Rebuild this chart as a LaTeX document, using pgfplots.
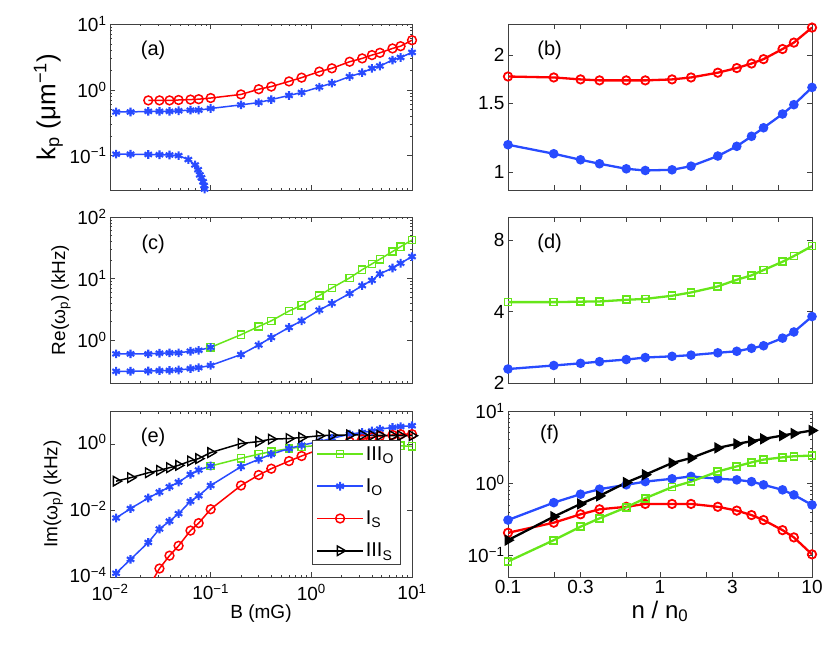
\documentclass[border=0pt]{standalone}
\usepackage{fontspec}
\setmainfont{Liberation Sans}
\usepackage{pgfplots}
\pgfplotsset{compat=1.18}
\definecolor{cgreen}{RGB}{102,230,25}
\definecolor{cblue}{RGB}{40,75,255}
\definecolor{cred}{RGB}{255,0,0}
\newcommand{\tk}[1]{10\textsuperscript{#1}}
\tikzset{plab/.style={font=\fontsize{20}{22}\selectfont}}
\pgfplotsset{
  myPanel/.style={scale only axis, width=302pt, height=166pt, anchor=south west,
    tick align=inside, axis line style={line width=0.6pt, black!75},
    tick style={black!75, line width=0.5pt},
    major tick length=5pt, minor tick length=2.5pt,
    ticklabel style={font=\fontsize{19}{21}\selectfont},
    /pgf/number format/assume math mode=true,
    clip=true},
  myRpanel/.style={myPanel, width=304pt, xmin=0.1, xmax=10,
    xtick={0.1,0.2,0.3,0.6,1,2,3,6,10},
    xticklabels={},
    minor xtick={}},
  myLpanel/.style={myPanel, xmin=0.01, xmax=10,
    xtick={0.01,0.1,1,10}, xticklabels={}},
  sI/.style={color=cred, line width=1.5pt, mark=o, mark size=4.4pt, mark options={line width=1.5pt}},
  sIO/.style={color=cblue, line width=1.5pt, mark=asterisk, mark size=4.3pt, mark options={line width=2.1pt}},
  sIIIO/.style={color=cgreen, line width=1.5pt, mark=square, mark size=3.6pt, mark options={line width=1.4pt}},
  sIIIS/.style={color=black, line width=1.5pt, mark=triangle, mark size=5.5pt, mark options={rotate=-90, line width=1.4pt}},
}
\begin{document}
\begin{tikzpicture}
\path[use as bounding box] (0,0) rectangle (830pt,654pt);
% ---------------- (a)
\begin{loglogaxis}[myLpanel, at={(110pt,464pt)}, ymin=0.03, ymax=10,
  ytick={0.1,1,10}, yticklabels={\tk{−1},\tk{0},\tk{1}},
  ylabel={k\textsubscript{p} (μm\textsuperscript{−1})},
  ylabel style={font=\fontsize{26}{28}\selectfont}]
\addplot[sIO] coordinates {(0.0115,0.46)(0.016,0.46)(0.024,0.47)(0.031,0.47)(0.039,0.47)(0.048,0.48)(0.063,0.49)(0.076,0.49)(0.1,0.52)(0.2,0.59)(0.3,0.64)(0.4,0.71)(0.6,0.82)(0.8,0.91)(1.2,1.10)(1.6,1.26)(2.4,1.59)(3.2,1.82)(4,2.12)(4.8,2.3)(6.4,2.83)(7.7,3.1)(10,3.7)};
\addplot[sIO] coordinates {(0.0115,0.105)(0.016,0.105)(0.024,0.104)(0.031,0.103)(0.039,0.102)(0.048,0.100)(0.060,0.087)(0.070,0.072)(0.075,0.061)(0.078,0.051)(0.081,0.046)(0.084,0.040)(0.086,0.035)(0.087,0.031)};
\addplot[sI] coordinates {(0.024,0.69)(0.031,0.69)(0.039,0.69)(0.048,0.70)(0.063,0.71)(0.076,0.72)(0.1,0.75)(0.2,0.85)(0.3,1.02)(0.4,1.12)(0.6,1.34)(0.8,1.53)(1.2,1.89)(1.6,2.12)(2.4,2.67)(3.2,3.0)(4,3.37)(4.8,3.65)(6.4,4.25)(7.7,4.6)(10,5.67)};
\node[plab] at (rel axis cs:0.143,0.843) {(a)};
\end{loglogaxis}
% ---------------- (b)
\begin{loglogaxis}[myRpanel, at={(508pt,464pt)}, ymin=0.9, ymax=2.4,
  ytick={1,1.5,2}, yticklabels={1,1.5,2}, minor ytick={}]
\addplot[sIO, mark=*, mark size=3.7pt, line width=2.3pt] coordinates {(0.1,1.176)(0.2,1.115)(0.3,1.076)(0.4,1.051)(0.6,1.02)(0.8,1.01)(1.2,1.014)(1.6,1.036)(2.4,1.10)(3.2,1.165)(4,1.236)(4.8,1.30)(6.4,1.41)(7.6,1.49)(10,1.65)};
\addplot[sI, line width=2.3pt, mark size=4.2pt, mark options={line width=1.8pt}] coordinates {(0.1,1.76)(0.2,1.75)(0.3,1.73)(0.4,1.72)(0.6,1.72)(0.8,1.72)(1.2,1.73)(1.6,1.75)(2.4,1.80)(3.2,1.85)(4,1.90)(4.8,1.95)(6.4,2.07)(7.6,2.15)(10,2.35)};
\node[plab] at (rel axis cs:0.137,0.843) {(b)};
\end{loglogaxis}
% ---------------- (c)
\begin{loglogaxis}[myLpanel, at={(110pt,271pt)}, ymin=0.2, ymax=100,
  ytick={1,10,100}, yticklabels={\tk{0},\tk{1},\tk{2}},
  ylabel={Re(ω\textsubscript{p}) (kHz)},
  ylabel style={font=\fontsize{19}{21}\selectfont}]
\addplot[sIO] coordinates {(0.0115,0.31)(0.016,0.31)(0.024,0.313)(0.031,0.317)(0.039,0.32)(0.048,0.325)(0.063,0.342)(0.076,0.355)(0.1,0.386)(0.2,0.58)(0.3,0.83)(0.4,1.10)(0.6,1.6)(0.8,2.05)(1.2,3.07)(1.6,3.94)(2.4,5.7)(3.2,7.67)(4,9.34)(4.8,11.9)(6.4,14.8)(7.7,17.7)(10,22.7)};
\addplot[sIIIO] coordinates {(0.1,0.76)(0.2,1.22)(0.3,1.66)(0.4,2.05)(0.6,2.96)(0.8,3.66)(1.2,5.3)(1.6,7.03)(2.4,10.2)(3.2,13.9)(4,17.3)(4.8,20.6)(6.4,27.4)(7.7,32.9)(10,42.2)};
\addplot[sIO] coordinates {(0.0115,0.595)(0.016,0.595)(0.024,0.595)(0.031,0.61)(0.039,0.618)(0.048,0.618)(0.063,0.657)(0.076,0.68)(0.1,0.76)};
\node[plab] at (rel axis cs:0.143,0.837) {(c)};
\end{loglogaxis}
% ---------------- (d)
\begin{loglogaxis}[myRpanel, at={(508pt,271pt)}, ymin=2, ymax=10,
  ytick={2,4,8}, yticklabels={2,4,8}, minor ytick={}]
\addplot[sIO, mark=*, mark size=3.7pt, line width=2.3pt] coordinates {(0.1,2.29)(0.2,2.37)(0.3,2.42)(0.4,2.46)(0.6,2.51)(0.8,2.56)(1.2,2.59)(1.6,2.62)(2.4,2.68)(3.2,2.72)(4,2.80)(4.8,2.87)(6.4,3.09)(7.6,3.28)(10,3.81)};
\addplot[sIIIO, line width=2.3pt, mark size=3.5pt, mark options={line width=1.7pt}] coordinates {(0.1,4.38)(0.2,4.38)(0.3,4.40)(0.4,4.41)(0.6,4.48)(0.8,4.52)(1.2,4.66)(1.6,4.81)(2.4,5.10)(3.2,5.44)(4,5.68)(4.8,5.98)(6.4,6.48)(7.6,6.85)(10,7.54)};
\node[plab] at (rel axis cs:0.137,0.843) {(d)};
\end{loglogaxis}
% ---------------- (e)
\begin{loglogaxis}[myLpanel, at={(110pt,77pt)}, ymin=1e-4, ymax=10,
  xticklabels={\tk{−2},\tk{−1},\tk{0},\tk{1}},
  xticklabel style={yshift=-4pt},
  yticklabel style={yshift=2pt},
  ytick={1e-4,1e-2,1}, yticklabels={\tk{−4},\tk{−2},\tk{0}},
  ylabel={Im(ω\textsubscript{p}) (kHz)},
  ylabel style={font=\fontsize{19}{21}\selectfont},
  xlabel={B (mG)},
  xlabel style={font=\fontsize{19}{21}\selectfont, yshift=2pt},
  legend cell align=left,
  legend style={at={(rel axis cs:0.669,0.825)}, anchor=north west,
    draw=black!75, line width=0.6pt, fill=white,
    font=\fontsize{20}{22}\selectfont, row sep=13pt, inner sep=4pt},
  legend image code/.code={\draw[mark repeat=2,mark phase=2,#1] plot coordinates {(0pt,0pt) (23pt,0pt) (46pt,0pt)};}]
\addplot[sIIIO] coordinates {(0.1,0.22)(0.2,0.377)(0.3,0.5)(0.4,0.6)(0.6,0.74)(0.8,0.83)(1.2,0.93)(1.6,0.97)(2.4,1.0)(3.2,1.0)(4,0.98)(4.8,0.96)(6.4,0.92)(7.7,0.9)(10,0.86)};
\addlegendentry{III\textsubscript{O}}
\addplot[sIO] coordinates {(0.0115,1.3e-4)(0.016,3.4e-4)(0.024,1.1e-3)(0.031,2.8e-3)(0.039,4.8e-3)(0.048,8.1e-3)(0.063,0.019)(0.076,0.028)(0.1,0.057)(0.2,0.21)(0.3,0.35)(0.4,0.5)(0.6,0.74)(0.8,0.93)(1.2,1.2)(1.6,1.5)(2.4,2.0)(3.2,2.26)(4,2.5)(4.8,2.85)(6.4,3.2)(7.7,3.4)(10,3.6)};
\addlegendentry{I\textsubscript{O}}
\addplot[sI] coordinates {(0.024,4.7e-5)(0.031,1.8e-4)(0.039,4.4e-4)(0.048,8.7e-4)(0.063,2.5e-3)(0.076,4.2e-3)(0.1,0.011)(0.2,0.057)(0.3,0.118)(0.4,0.183)(0.6,0.31)(0.8,0.44)(1.2,0.7)(1.6,0.9)(2.4,1.2)(3.2,1.4)(4,1.6)(4.8,1.75)(6.4,1.9)(7.7,2.0)(10,2.0)};
\addlegendentry{I\textsubscript{S}}
\addplot[sIIIS] coordinates {(0.0115,0.077)(0.016,0.098)(0.024,0.138)(0.031,0.163)(0.039,0.196)(0.048,0.231)(0.063,0.313)(0.076,0.368)(0.1,0.559)(0.2,1.05)(0.3,1.2)(0.4,1.42)(0.6,1.48)(0.8,1.59)(1.2,1.79)(1.6,1.87)(2.4,1.9)(3.2,1.9)(4,1.85)(4.8,1.85)(6.4,1.8)(7.7,1.8)(10,1.8)};
\addlegendentry{III\textsubscript{S}}
\addplot[sIO, forget plot] coordinates {(0.0115,0.006)(0.016,0.0115)(0.024,0.024)(0.031,0.036)(0.039,0.052)(0.048,0.072)(0.063,0.123)(0.076,0.167)(0.1,0.22)};
\node[plab] at (rel axis cs:0.143,0.843) {(e)};
\end{loglogaxis}
% ---------------- (f)
\begin{loglogaxis}[myRpanel, at={(508pt,77pt)}, ymin=0.05, ymax=10,
  xticklabels={0.1,,0.3,,1,,3,,10},
  ytick={0.1,1,10}, yticklabels={\tk{−1},\tk{0},\tk{1}},
  xlabel={n / n\textsubscript{0}},
  xlabel style={font=\fontsize{24}{26}\selectfont}]
\addplot[sIO, mark=*, mark size=3.7pt, line width=2.3pt] coordinates {(0.1,0.308)(0.2,0.537)(0.3,0.703)(0.4,0.825)(0.6,0.948)(0.8,1.05)(1.2,1.15)(1.6,1.24)(2.4,1.15)(3.2,1.11)(4,1.05)(4.8,0.948)(6.4,0.807)(7.6,0.687)(10,0.499)};
\addplot[sI, line width=2.3pt, mark size=4.2pt, mark options={line width=1.8pt}] coordinates {(0.1,0.205)(0.2,0.283)(0.3,0.37)(0.4,0.434)(0.6,0.47)(0.8,0.515)(1.2,0.515)(1.6,0.515)(2.4,0.47)(3.2,0.416)(4,0.361)(4.8,0.308)(6.4,0.223)(7.6,0.177)(10,0.103)};
\addplot[sIIIO, line width=2.3pt, mark size=3.5pt, mark options={line width=1.7pt}] coordinates {(0.1,0.082)(0.2,0.162)(0.3,0.249)(0.4,0.325)(0.6,0.462)(0.8,0.618)(1.2,0.88)(1.6,1.05)(2.4,1.45)(3.2,1.71)(4,1.94)(4.8,2.12)(6.4,2.28)(7.6,2.36)(10,2.41)};
\addplot[sIIIS, line width=2.3pt, mark=triangle*, mark size=5.5pt, mark options={rotate=-90, line width=1.2pt, fill=black}] coordinates {(0.1,0.162)(0.2,0.343)(0.3,0.515)(0.4,0.666)(0.6,1.02)(0.8,1.31)(1.2,1.9)(1.6,2.23)(2.4,3.08)(3.2,3.5)(4,3.81)(4.8,4.11)(6.4,4.57)(7.6,4.88)(10,5.37)};
\node[plab] at (rel axis cs:0.137,0.86) {(f)};
\end{loglogaxis}
\end{tikzpicture}
\end{document}
